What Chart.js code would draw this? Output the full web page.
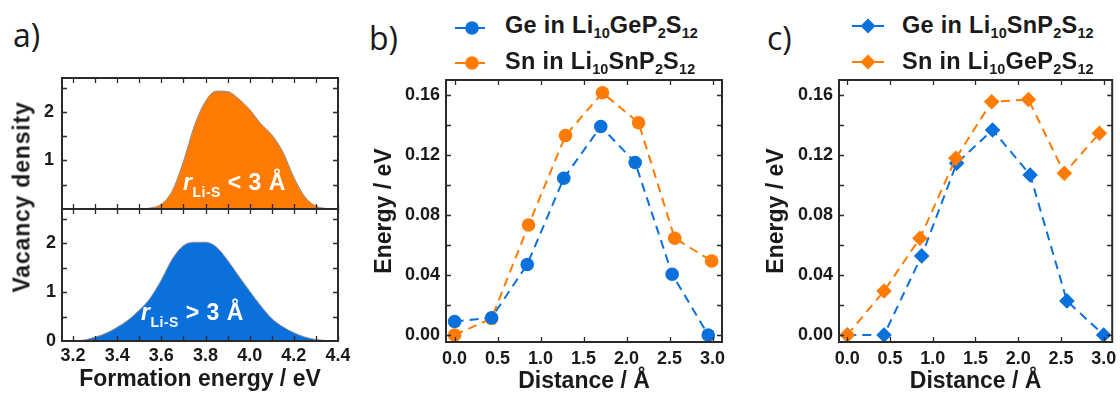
<!DOCTYPE html>
<html>
<head>
<meta charset="utf-8">
<script src="https://cdn.jsdelivr.net/npm/chart.js@4.4.1/dist/chart.umd.min.js"></script>
<style>
  html, body { margin: 0; padding: 0; }
  body { width: 1120px; height: 394px; background: #fff; position: relative; overflow: hidden;
         font-family: "Liberation Sans", Arial, sans-serif; color: #1a1a1a; }
  canvas { position: absolute; }
  .plbl { position: absolute; font-family: "Open Sans", sans-serif; font-size: 32px; line-height: 32px; color: #1a1a1a; }
  .leg { position: absolute; font-weight: bold; font-size: 23.5px; line-height: 23px; white-space: nowrap; color: #1a1a1a; letter-spacing: 0.3px; }
  .leg sub { font-size: 14.5px; vertical-align: -5px; line-height: 0; letter-spacing: 0; }
  .legmark { position: absolute; }
  .ann { position: absolute; font-weight: bold; font-size: 23px; line-height: 23px; color: #fff; white-space: nowrap; letter-spacing: 0.5px; }
  .ann i { font-style: italic; }
  .ann sub { font-size: 14px; vertical-align: -7px; line-height: 0; }
  .vt { position: absolute; font-weight: bold; font-size: 23px; line-height: 23px; white-space: nowrap; letter-spacing: 0.8px;
        transform: translate(-50%, -50%) rotate(-90deg); color: #1a1a1a; }
</style>
</head>
<body>
<canvas id="aTop" width="350" height="141" style="left:0px;top:68px;"></canvas>
<canvas id="aBot" width="350" height="195" style="left:0px;top:199px;"></canvas>
<canvas id="bChart" width="370" height="324" style="left:370px;top:70px;"></canvas>
<canvas id="cChart" width="380" height="324" style="left:740px;top:70px;"></canvas>

<div class="plbl" style="left:13px;top:19px;">a)</div>
<div class="plbl" style="left:369px;top:22px;">b)</div>
<div class="plbl" style="left:767px;top:22px;">c)</div>

<div class="vt" style="left:22px;top:197px;">Vacancy density</div>

<div class="ann" style="left:183px;top:171px;"><i>r</i><sub>Li-S</sub> &lt; 3 Å</div>
<div class="ann" style="left:141px;top:301px;"><i>r</i><sub>Li-S</sub> &gt; 3 Å</div>

<!-- legend b -->
<svg class="legmark" style="left:453px;top:20px;" width="34" height="16">
  <line x1="2" y1="8" x2="14" y2="8" stroke="#0a70dc" stroke-width="2"/>
  <line x1="25" y1="8" x2="32" y2="8" stroke="#0a70dc" stroke-width="2"/>
  <circle cx="19" cy="8" r="6.8" fill="#0a70dc"/>
</svg>
<div class="leg" style="left:505px;top:14px;">Ge in Li<sub>10</sub>GeP<sub>2</sub>S<sub>12</sub></div>
<svg class="legmark" style="left:453px;top:55px;" width="34" height="16">
  <line x1="2" y1="8" x2="14" y2="8" stroke="#ff7b03" stroke-width="2"/>
  <line x1="25" y1="8" x2="32" y2="8" stroke="#ff7b03" stroke-width="2"/>
  <circle cx="19" cy="8" r="6.8" fill="#ff7b03"/>
</svg>
<div class="leg" style="left:505px;top:50px;">Sn in Li<sub>10</sub>SnP<sub>2</sub>S<sub>12</sub></div>

<!-- legend c -->
<svg class="legmark" style="left:850px;top:17px;" width="36" height="18">
  <line x1="2" y1="9" x2="13" y2="9" stroke="#0a70dc" stroke-width="2"/>
  <line x1="25" y1="9" x2="34" y2="9" stroke="#0a70dc" stroke-width="2"/>
  <polygon points="18,1.5 25.5,9 18,16.5 10.5,9" fill="#0a70dc"/>
</svg>
<div class="leg" style="left:902px;top:14px;">Ge in Li<sub>10</sub>SnP<sub>2</sub>S<sub>12</sub></div>
<svg class="legmark" style="left:850px;top:53px;" width="36" height="18">
  <line x1="2" y1="9" x2="13" y2="9" stroke="#ff7b03" stroke-width="2"/>
  <line x1="25" y1="9" x2="34" y2="9" stroke="#ff7b03" stroke-width="2"/>
  <polygon points="18,1.5 25.5,9 18,16.5 10.5,9" fill="#ff7b03"/>
</svg>
<div class="leg" style="left:902px;top:50px;">Sn in Li<sub>10</sub>GeP<sub>2</sub>S<sub>12</sub></div>

<script>
// ---------------- DATA ----------------
// Panel a: vacancy density vs formation energy
const aEnergyShort = [3.50, 3.55, 3.60, 3.65, 3.70, 3.75, 3.80, 3.85, 3.90, 3.95, 4.00, 4.05, 4.10, 4.15, 4.20, 4.25, 4.30, 4.35, 4.40];
const aDensityShort = [0.00, 0.02, 0.10, 0.38, 0.98, 1.72, 2.22, 2.43, 2.42, 2.27, 2.05, 1.76, 1.53, 1.18, 0.65, 0.25, 0.06, 0.01, 0.00];
const aEnergyLong = [3.20, 3.25, 3.30, 3.35, 3.40, 3.45, 3.50, 3.55, 3.60, 3.65, 3.70, 3.75, 3.80, 3.85, 3.90, 3.95, 4.00, 4.05, 4.10, 4.15, 4.20, 4.25, 4.30, 4.35, 4.40];
const aDensityLong = [0.00, 0.02, 0.08, 0.16, 0.28, 0.43, 0.63, 0.88, 1.25, 1.68, 1.95, 2.02, 2.02, 1.92, 1.65, 1.33, 1.02, 0.72, 0.46, 0.29, 0.17, 0.08, 0.03, 0.01, 0.00];
const aEnergyTickLabels = [3.2, 3.4, 3.6, 3.8, 4.0, 4.2, 4.4];
const aEnergyTickMarks = [3.2, 3.3, 3.4, 3.5, 3.6, 3.7, 3.8, 3.9, 4.0, 4.1, 4.2, 4.3, 4.4];
const aDensityTopLabels = [1, 2];
const aDensityBotLabels = [0, 1, 2];
const aDensityTickMarks = [0.5, 1, 1.5, 2, 2.5];

// Panel b
const bDistanceGe = [0.00, 0.43, 0.845, 1.27, 1.70, 2.10, 2.53, 2.95];
const bEnergyGe   = [0.009, 0.0115, 0.047, 0.1045, 0.139, 0.115, 0.0405, 0.000];
const bDistanceSn = [0.00, 0.43, 0.86, 1.29, 1.72, 2.14, 2.56, 2.99];
const bEnergySn   = [0.000, 0.011, 0.0733, 0.133, 0.1615, 0.1415, 0.0645, 0.0493];

// Panel c
const cDistanceGe = [0.00, 0.43, 0.87, 1.28, 1.70, 2.14, 2.57, 3.00];
const cEnergyGe   = [0.000, 0.000, 0.0527, 0.1145, 0.1367, 0.1067, 0.0227, 0.000];
const cDistanceSn = [0.00, 0.43, 0.85, 1.27, 1.69, 2.12, 2.54, 2.95];
const cEnergySn   = [0.000, 0.0293, 0.0645, 0.1178, 0.1555, 0.157, 0.1078, 0.1345];

const distanceTickLabels = [0.0, 0.5, 1.0, 1.5, 2.0, 2.5, 3.0];
const energyTickLabels = [0.00, 0.04, 0.08, 0.12, 0.16];
const energyTickMarks = [0.00, 0.02, 0.04, 0.06, 0.08, 0.10, 0.12, 0.14, 0.16];

// ---------------- STYLE ----------------
const BLUE = '#0a70dc';
const ORANGE = '#ff7b03';
const FONT = '"Liberation Sans", Arial, sans-serif';
Chart.defaults.font.family = FONT;
Chart.defaults.color = '#1a1a1a';

const pts = (xs, ys) => xs.map((x, i) => ({ x: x, y: ys[i] }));

// frame + inward tick marks on all four sides
const boxTicks = {
  id: 'boxTicks',
  afterDatasetsDraw(chart, args, opts) {
    const { ctx, chartArea: a } = chart;
    const x = chart.scales.x, y = chart.scales.y;
    ctx.save();
    ctx.strokeStyle = '#2a2a2a';
    ctx.lineWidth = 1.3;
    ctx.beginPath();
    const L = opts.len || 5;
    (opts.xTicks || []).forEach(v => {
      const px = Math.round(x.getPixelForValue(v)) + 0.5;
      ctx.moveTo(px, a.bottom); ctx.lineTo(px, a.bottom - L);
      ctx.moveTo(px, a.top); ctx.lineTo(px, a.top + L);
    });
    (opts.yTicks || []).forEach(v => {
      const py = Math.round(y.getPixelForValue(v)) + 0.5;
      ctx.moveTo(a.left, py); ctx.lineTo(a.left + L, py);
      ctx.moveTo(a.right, py); ctx.lineTo(a.right - L, py);
    });
    ctx.stroke();
    ctx.lineWidth = 2;
    ctx.strokeRect(a.left, a.top, a.right - a.left, a.bottom - a.top);
    ctx.restore();
  }
};

function zeroPad(s) { s.paddingTop = 0; s.paddingBottom = 0; s.paddingLeft = 0; s.paddingRight = 0; }

function makeChart(id, datasets, c) {
  return new Chart(document.getElementById(id), {
    type: 'line',
    data: { datasets: datasets },
    options: {
      responsive: false,
      animation: false,
      events: [],
      layout: { padding: c.padding },
      plugins: {
        legend: { display: false },
        tooltip: { enabled: false },
        boxTicks: { xTicks: c.xMarks, yTicks: c.yMarks, len: 5 }
      },
      scales: {
        x: {
          type: 'linear', min: c.xMin, max: c.xMax, display: c.xDisplay,
          grid: { display: false, drawTicks: false }, border: { display: false },
          afterBuildTicks: s => { s.ticks = c.xLabels.map(v => ({ value: v })); },
          afterFit: s => { s.height = c.xHeight; zeroPad(s); },
          ticks: { font: { size: 18, weight: 'bold' }, padding: c.xPad, maxRotation: 0, autoSkip: false, callback: c.xFmt },
          title: c.xTitle ? { display: true, text: c.xTitle, font: { size: 23, weight: 'bold', lineHeight: 1 }, padding: { top: 0, bottom: c.xTitlePad } } : { display: false }
        },
        y: {
          type: 'linear', min: c.yMin, max: c.yMax,
          grid: { display: false, drawTicks: false }, border: { display: false },
          afterBuildTicks: s => { s.ticks = c.yLabels.map(v => ({ value: v })); },
          afterFit: s => { s.width = c.yWidth; zeroPad(s); },
          ticks: { font: { size: 18, weight: 'bold' }, padding: c.yPad, autoSkip: false, callback: c.yFmt },
          title: c.yTitle ? { display: true, text: c.yTitle, font: { size: 23, weight: 'bold', lineHeight: 1 }, padding: { top: c.yTitlePad, bottom: 0 } } : { display: false }
        }
      }
    },
    plugins: [boxTicks]
  });
}

function areaSet(xs, ys, color) {
  return { data: pts(xs, ys), fill: 'origin', backgroundColor: color, borderColor: '#8e8e8e', borderWidth: 1,
           pointRadius: 0, cubicInterpolationMode: 'monotone' };
}
function lineSet(xs, ys, color, style, radius, order) {
  return { data: pts(xs, ys), borderColor: color, backgroundColor: color, borderWidth: 2, borderDash: [9, 6],
           pointStyle: style, pointRadius: radius, pointBorderWidth: 0, pointBackgroundColor: color,
           tension: 0, fill: false, order: order };
}

// Panel a top
makeChart('aTop', [areaSet(aEnergyShort, aDensityShort, ORANGE)], {
  padding: { top: 10, right: 12, bottom: 0, left: 0 },
  xMin: 3.15, xMax: 4.4, xDisplay: false, xLabels: aEnergyTickLabels, xMarks: aEnergyTickMarks, xHeight: 0, xPad: 4,
  xFmt: v => v.toFixed(1),
  yMin: 0, yMax: 2.7, yLabels: aDensityTopLabels, yMarks: aDensityTickMarks, yWidth: 62, yPad: 8, yFmt: v => String(v)
});
// Panel a bottom
makeChart('aBot', [areaSet(aEnergyLong, aDensityLong, BLUE)], {
  padding: { top: 10, right: 12, bottom: 0, left: 0 },
  xMin: 3.15, xMax: 4.4, xDisplay: true, xLabels: aEnergyTickLabels, xMarks: aEnergyTickMarks, xHeight: 53, xPad: 4,
  xFmt: v => v.toFixed(1), xTitle: 'Formation energy / eV', xTitlePad: 3,
  yMin: 0, yMax: 2.7, yLabels: aDensityBotLabels, yMarks: aDensityTickMarks, yWidth: 62, yPad: 6, yFmt: v => String(v)
});
// Panel b
makeChart('bChart', [
  lineSet(bDistanceGe, bEnergyGe, BLUE, 'circle', 6.8, 0),
  lineSet(bDistanceSn, bEnergySn, ORANGE, 'circle', 6.8, 1)
], {
  padding: { top: 10, right: 18, bottom: 0, left: 0 },
  xMin: -0.1, xMax: 3.11, xDisplay: true, xLabels: distanceTickLabels, xMarks: distanceTickLabels, xHeight: 52, xPad: 6,
  xFmt: v => v.toFixed(1), xTitle: 'Distance / Å', xTitlePad: 1,
  yMin: -0.0047, yMax: 0.17, yLabels: energyTickLabels, yMarks: energyTickMarks, yWidth: 76, yPad: 6,
  yFmt: v => v.toFixed(2), yTitle: 'Energy / eV', yTitlePad: 3
});
// Panel c
makeChart('cChart', [
  lineSet(cDistanceGe, cEnergyGe, BLUE, 'rectRot', 7.8, 1),
  lineSet(cDistanceSn, cEnergySn, ORANGE, 'rectRot', 7.8, 0)
], {
  padding: { top: 10, right: 7, bottom: 0, left: 0 },
  xMin: -0.097, xMax: 3.1, xDisplay: true, xLabels: distanceTickLabels, xMarks: distanceTickLabels, xHeight: 52, xPad: 6,
  xFmt: v => v.toFixed(1), xTitle: 'Distance / Å', xTitlePad: 1,
  yMin: -0.0047, yMax: 0.17, yLabels: energyTickLabels, yMarks: energyTickMarks, yWidth: 99, yPad: 6,
  yFmt: v => v.toFixed(2), yTitle: 'Energy / eV', yTitlePad: 25
});
</script>
</body>
</html>
